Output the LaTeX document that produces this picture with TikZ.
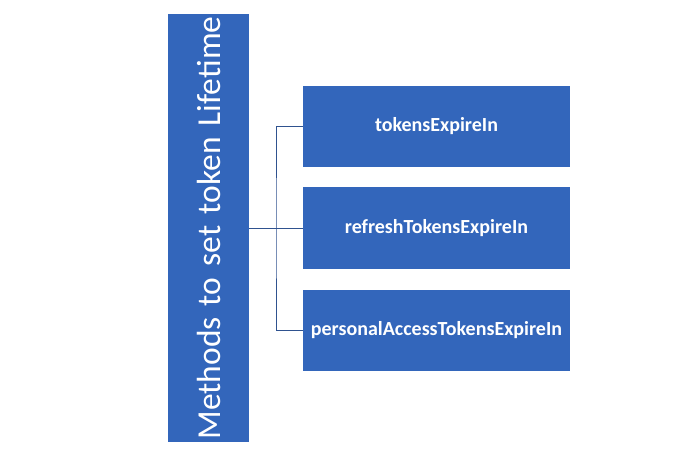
\documentclass[tikz,border=0pt]{standalone}
\usepackage{fontspec}
\setmainfont{Carlito}
\usetikzlibrary{positioning}
\definecolor{boxblue}{RGB}{51,102,187}
\definecolor{linkblue}{RGB}{47,82,143}

\begin{document}
\begin{tikzpicture}[x=1pt,y=1pt,
  method/.style={fill=boxblue,text=white,minimum width=267pt,minimum height=81pt,inner sep=0pt,font=\bfseries\fontsize{20}{22}\selectfont},
  link/.style={draw=linkblue,line width=0.8pt}]
\useasboundingbox (0,0) rectangle (692,474);
\node[fill=boxblue,text=white,rotate=90,minimum width=428pt,text width=428pt,align=center,minimum height=81pt,inner sep=0pt,font=\fontsize{33.5}{36}\selectfont] (root) at (208.5,246) {Methods to set token Lifetime};
\node[method] (expire) at (436.5,347.5) {tokensExpireIn};
\node[method] (refresh) at (436.5,246) {refreshTokensExpireIn};
\node[method] (personal) at (436.5,143.5) {personalAccessTokensExpireIn};
\coordinate (fork) at (276,246);
\draw[link] (root.south) -- (refresh.west);
\draw[link] (expire.west) -| (fork) |- (personal.west);
\end{tikzpicture}
\end{document}
